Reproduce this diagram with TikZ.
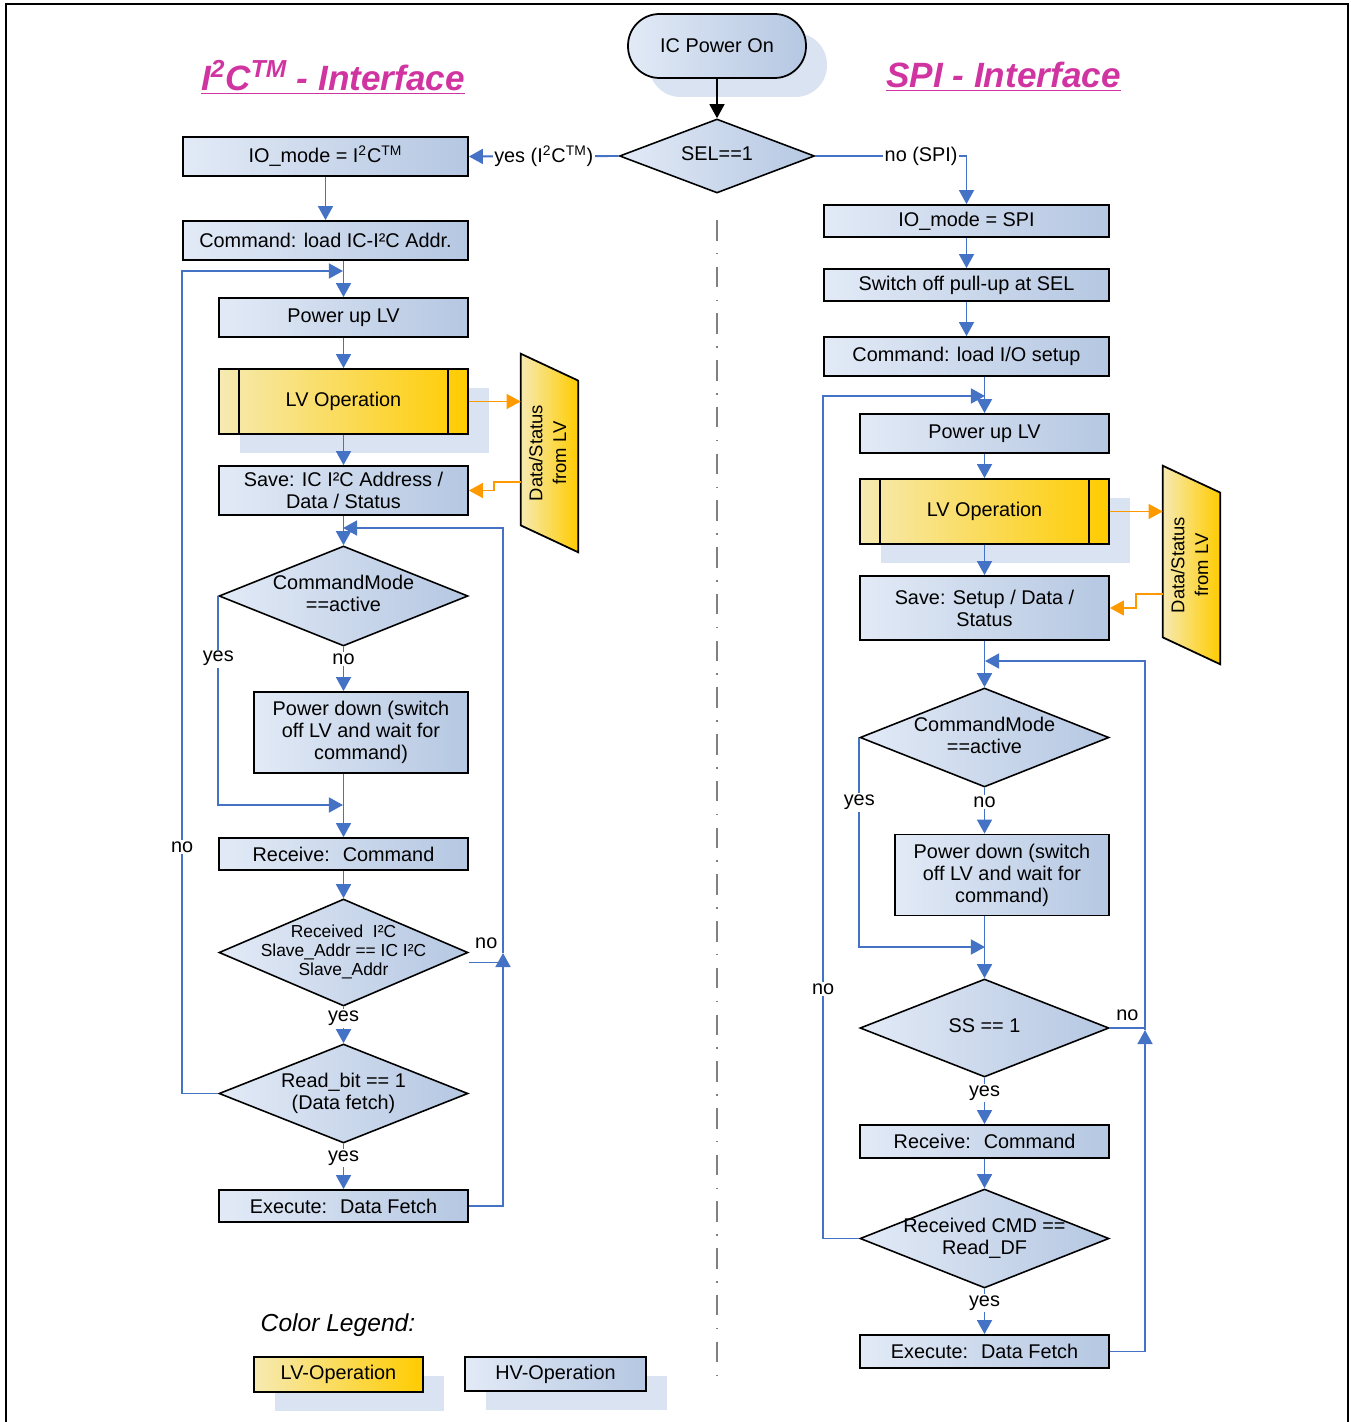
\documentclass[tikz,border=0pt]{standalone}
\usepackage{fontspec}
\usepackage{graphicx}
\setmainfont{Liberation Sans}
\usetikzlibrary{arrows.meta,calc,shapes.geometric,shadows,backgrounds}

\definecolor{flowblue}{RGB}{68,114,196}
\definecolor{hvlight}{RGB}{226,234,246}
\definecolor{hvdark}{RGB}{181,199,226}
\definecolor{lvlight}{RGB}{246,234,178}
\definecolor{lvgold}{RGB}{255,204,0}
\definecolor{shadowc}{RGB}{218,227,242}
\definecolor{lvorange}{RGB}{255,153,0}
\definecolor{titlepink}{RGB}{208,52,160}

% text of a diamond, kept out of the shape size
\newcommand{\dectext}[1]{\makebox[0pt]{\raisebox{-0.25em}[0pt][0pt]{\begin{tabular}{@{}c@{}}#1\end{tabular}}}}

\tikzset{
  txt/.style={font=\fontsize{11.3}{12.5}\selectfont},
  shadowed/.style={drop shadow={shadow xshift=0.42cm, shadow yshift=-0.38cm, fill=shadowc, opacity=1}},
  hvbox/.style={txt, rectangle, draw=black, line width=1pt, left color=hvlight, right color=hvdark, align=center, inner sep=0pt},
  lvbox/.style={hvbox, left color=lvlight, right color=lvgold, shadowed},
  decbox/.style={txt, diamond, draw=black, line width=0.9pt, left color=hvlight, right color=hvdark, inner sep=0pt, minimum width=4.98cm},
  dsbox/.style={rectangle, inner sep=0pt, minimum width=1.14cm, minimum height=3.96cm, font=\fontsize{10.5}{13.5}\selectfont},
  flow/.style={draw=flowblue, line width=1.1pt, -{Triangle[length=8pt,width=8.5pt]}},
  flowline/.style={draw=flowblue, line width=1.1pt},
  lvflow/.style={draw=lvorange, line width=1pt, -{Triangle[length=8pt,width=8.5pt]}},
  lbl/.style={txt, fill=white, inner sep=1pt},
  title/.style={text=titlepink, font=\fontsize{20}{24}\selectfont\bfseries\itshape},
  sepline/.style={draw=gray, line width=1.1pt, dash pattern=on 11.7pt off 7pt on 0.9pt off 7pt}
}

\begin{document}
\begin{tikzpicture}[x=0.02cm,y=-0.02cm]
\useasboundingbox (0,0) rectangle (1351,1422);
\draw[line width=1.5pt] (6,1422) -- (6,4) -- (1348,4) -- (1348,1422);

% titles
\node[title] (tl0) at (333,77) {\underline{I\textsuperscript{2}C\textsuperscript{TM} - Interface}};
\node[title] (tl1) at (1003.5,77) {\underline{SPI - Interface}};

% start
\node[hvbox, rounded corners=0.63cm, minimum width=3.56cm, minimum height=1.28cm, shadowed] (top0) at (717,46) {IC Power On};
\node[decbox, minimum width=3.9cm, minimum height=1.48cm] (top1) at (717,156) {\dectext{SEL==1}};
\draw[line width=1pt, -{Triangle[length=8pt,width=8.5pt]}] (top0.south) -- (top1.north);

% I2C side
\node[hvbox, minimum width=5.7cm, minimum height=0.78cm] (i2c0) at (325.5,156.5) {IO\_mode = I\textsuperscript{2}C\textsuperscript{TM}};
\node[hvbox, minimum width=5.7cm, minimum height=0.78cm] (i2c1) at (325.5,240.5) {Command: load IC-I²C Addr.};
\node[hvbox, minimum width=4.98cm, minimum height=0.78cm] (i2c2) at (343.5,317.5) {Power up LV};
\node[lvbox, minimum width=4.98cm, minimum height=1.3cm] (i2c3) at (343.5,401.5) {LV Operation};
\node[hvbox, minimum width=4.98cm, minimum height=0.98cm] (i2c4) at (343.5,490.5) {Save: IC I²C Address /\\Data / Status};
\node[decbox, minimum height=2cm] (i2c5) at (343.5,596) {\dectext{CommandMode\\==active}};
\node[hvbox, minimum width=4.28cm, minimum height=1.62cm] (i2c6) at (361,732.5) {Power down (switch\\off LV and wait for\\command)};
\node[hvbox, minimum width=4.98cm, minimum height=0.64cm] (i2c7) at (343.5,854) {Receive:~ Command};
\node[decbox, minimum height=2.14cm, font=\fontsize{9.9}{11}\selectfont] (i2c8) at (343.5,952.5) {\dectext{Received~ I²C\\Slave\_Addr == IC I²C\\Slave\_Addr}};
\node[decbox, minimum height=1.98cm] (i2c9) at (343.5,1093.5) {\dectext{Read\_bit == 1\\(Data fetch)}};
\node[hvbox, minimum width=4.98cm, minimum height=0.64cm] (i2c10) at (343.5,1206) {Execute:~ Data Fetch};
\node[dsbox] (i2cds) at (549.5,453) {\rotatebox{90}{\begin{tabular}{@{}c@{}}Data/Status\\from LV\end{tabular}}};

% SPI side
\node[hvbox, minimum width=5.7cm, minimum height=0.64cm] (spi0) at (966.5,221) {IO\_mode = SPI};
\node[hvbox, minimum width=5.7cm, minimum height=0.64cm] (spi1) at (966.5,285) {Switch off pull-up at SEL};
\node[hvbox, minimum width=5.7cm, minimum height=0.78cm] (spi2) at (966.5,356.5) {Command: load I/O setup};
\node[hvbox, minimum width=4.98cm, minimum height=0.78cm] (spi3) at (984.5,433.5) {Power up LV};
\node[lvbox, minimum width=4.98cm, minimum height=1.3cm] (spi4) at (984.5,511.5) {LV Operation};
\node[hvbox, minimum width=4.98cm, minimum height=1.28cm] (spi5) at (984.5,608) {Save: Setup / Data /\\Status};
\node[decbox, minimum height=1.98cm] (spi6) at (984.5,737.5) {\dectext{CommandMode\\==active}};
\node[hvbox, minimum width=4.28cm, minimum height=1.62cm] (spi7) at (1002,875) {Power down (switch\\off LV and wait for\\command)};
\node[decbox, minimum height=1.96cm] (spi8) at (984.5,1028) {\dectext{SS == 1}};
\node[hvbox, minimum width=4.98cm, minimum height=0.66cm] (spi9) at (984.5,1141.5) {Receive:~ Command};
\node[decbox, minimum height=1.98cm] (spi10) at (984.5,1238.5) {\dectext{Received CMD ==\\Read\_DF}};
\node[hvbox, minimum width=4.98cm, minimum height=0.66cm] (spi11) at (984.5,1351.5) {Execute:~ Data Fetch};
\node[dsbox] (spids) at (1191.5,565) {\rotatebox{90}{\begin{tabular}{@{}c@{}}Data/Status\\from LV\end{tabular}}};

% side bars and data blocks
\foreach \n in {i2c3,spi4} {
  \draw[line width=1pt] ($(\n.north west)+(21,0)$) -- ($(\n.south west)+(21,0)$);
  \draw[line width=1pt] ($(\n.north east)+(-21,0)$) -- ($(\n.south east)+(-21,0)$);
}
\begin{scope}[on background layer]
\foreach \n in {i2cds,spids}
  \draw[line width=1pt, left color=lvlight, right color=lvgold] (\n.north west) -- ($(\n.north east)+(0,27)$) -- (\n.south east) -- ($(\n.south west)+(0,-27)$) -- cycle;
\end{scope}

% top connectors
\draw[flow] (top1.west) -- node[lbl] (topy) {yes (I\textsuperscript{2}C\textsuperscript{TM})} (i2c0.east);
\draw[flow] (top1.east) -| node[lbl,pos=0.35] (topn) {no (SPI)} (spi0.north);

% I2C connectors
\coordinate (i2cj0) at (343,271);
\coordinate (i2cj1) at (343,528);
\coordinate (i2cj2) at (343,805);
\coordinate (i2cj3) at (503,953);
\draw[flow] (i2c0.south) -- (i2c1.north);
\draw[flow] (i2c1.south -| i2c2.north) -- (i2c2.north);
\draw[flow] (i2c2.south) -- (i2c3.north);
\draw[flow] (i2c3.south) -- (i2c4.north);
\draw[flow] (i2c4.south) -- (i2c5.north);
\draw[flow] (i2c5.south) -- node[lbl,pos=0.28] (i2cn0) {no} (i2c5.south |- i2c6.north);
\draw[flow] (i2c5.west) |- node[lbl,pos=0.15] (i2cy0) {yes} (i2cj2);
\draw[flow] (i2c6.south -| i2c7.north) -- (i2c7.north);
\draw[flow] (i2c7.south) -- (i2c8.north);
\draw[flow] (i2c8.south) -- node[lbl,pos=0.32] (i2cy1) {yes} (i2c9.north);
\draw[flow] (i2c9.south) -- node[lbl,pos=0.32] (i2cy2) {yes} (i2c10.north);
\draw[flow] (i2c9.west) -- ++(-36,0) |- node[lbl,pos=0.15] (i2cn1) {no} (i2cj0);
\draw[flow] (i2c10.east) -| (i2cj3);
\draw[flow] (i2cj3) |- (i2cj1);
\draw[flowline] ($(i2c8.east)+(0,10)$) -- node[txt,above,yshift=4pt] (i2cn2) {no} ++(35,0);
\draw[lvflow] (i2c3.east) -- (i2c3.east -| i2cds.west);
\draw[lvflow] ($(i2cds.west)+(0,29)$) -- ++(-27,0) |- (i2c4.east);

% SPI connectors
\coordinate (spij0) at (985,396);
\coordinate (spij1) at (985,661);
\coordinate (spij2) at (985,947);
\coordinate (spij3) at (1145,1030);
\draw[flow] (spi0.south) -- (spi1.north);
\draw[flow] (spi1.south) -- (spi2.north);
\draw[flow] (spi2.south -| spi3.north) -- (spi3.north);
\draw[flow] (spi3.south) -- (spi4.north);
\draw[flow] (spi4.south) -- (spi5.north);
\draw[flow] (spi5.south) -- (spi6.north);
\draw[flow] (spi6.south) -- node[lbl,pos=0.31] (spin0) {no} (spi6.south |- spi7.north);
\draw[flow] (spi6.west) |- node[lbl,pos=0.155] (spiy0) {yes} (spij2);
\draw[flow] (spi7.south -| spi8.north) -- (spi8.north);
\draw[flow] (spi8.south) -- node[lbl,pos=0.33] (spiy1) {yes} (spi9.north);
\draw[flow] (spi9.south) -- (spi10.north);
\draw[flow] (spi10.south) -- node[lbl,pos=0.32] (spiy2) {yes} (spi11.north);
\draw[flow] (spi10.west) -- ++(-36,0) |- node[lbl,pos=0.148] (spin1) {no} (spij0);
\draw[flow] (spi11.east) -| (spij3);
\draw[flow] (spij3) |- (spij1);
\draw[flowline] (spi8.east) -- node[txt,above] (spin2) {no} (spi8.east -| spij3);
\draw[lvflow] (spi4.east) -- (spi4.east -| spids.west);
\draw[lvflow] ($(spids.west)+(0,29)$) -- ++(-27,0) |- (spi5.east);

% separator
\draw[sepline] (717,220) -- (717,1378);

% legend
\node[font=\fontsize{14}{16}\selectfont\itshape] (leg0) at (338,1325) {Color Legend:};
\node[lvbox, minimum width=3.38cm, minimum height=0.7cm] (leg1) at (338.5,1374.5) {LV-Operation};
\node[hvbox, shadowed, minimum width=3.62cm, minimum height=0.68cm] (leg2) at (555.5,1374) {HV-Operation};
\end{tikzpicture}
\end{document}
